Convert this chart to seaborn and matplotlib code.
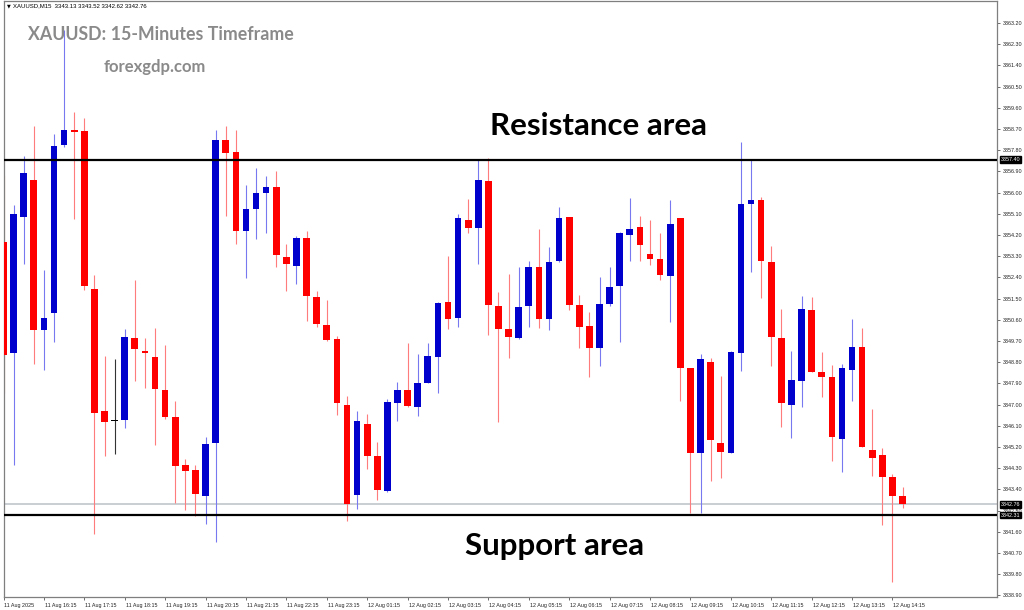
import matplotlib
matplotlib.use("Agg")
import matplotlib.pyplot as plt
import matplotlib.transforms as mtransforms
from matplotlib import font_manager
import numpy as np
import pandas as pd
import seaborn as sns

# ---------------- data (XAUUSD M15) ----------------
opens = [3353.88, 3349.17, 3354.98, 3356.52, 3350.18, 3350.88, 3358.03, 3358.66, 3358.62, 3351.91,
         3346.73, 3346.31, 3346.34, 3349.81, 3349.27, 3349.01, 3347.63, 3346.46, 3344.44, 3344.24,
         3343.12, 3345.36, 3358.25, 3357.71, 3354.37, 3355.28, 3355.96, 3356.22, 3353.28, 3352.89,
         3354.05, 3351.58, 3350.39, 3349.78, 3346.98, 3343.14, 3346.16, 3344.81, 3343.34, 3347.05,
         3347.62, 3346.89, 3347.93, 3349.03, 3351.34, 3350.67, 3354.83, 3354.51, 3356.50, 3351.20,
         3350.22, 3349.84, 3351.18, 3352.85, 3350.63, 3353.09, 3354.95, 3351.21, 3350.33, 3349.38,
         3351.27, 3352.03, 3354.20, 3354.52, 3353.37, 3353.16, 3352.47, 3354.90, 3348.54, 3344.93,
         3348.82, 3345.35, 3344.96, 3349.20, 3355.51, 3355.68, 3353.06, 3349.81, 3346.98, 3348.00,
         3351.01, 3348.39, 3348.18, 3345.52, 3348.45, 3349.45, 3345.07, 3344.86, 3343.94, 3343.13]
highs = [3356.74, 3355.45, 3357.55, 3358.84, 3352.71, 3358.50, 3362.89, 3359.41, 3359.16, 3352.52,
         3349.05, 3348.93, 3350.22, 3352.27, 3349.81, 3350.25, 3349.52, 3347.15, 3344.70, 3344.44,
         3345.64, 3358.67, 3358.82, 3358.67, 3356.30, 3357.03, 3356.70, 3356.91, 3353.81, 3354.15,
         3354.37, 3351.82, 3351.42, 3349.91, 3347.36, 3346.74, 3346.60, 3345.42, 3347.22, 3347.94,
         3349.63, 3349.16, 3349.63, 3351.37, 3353.32, 3355.07, 3355.72, 3357.38, 3357.45, 3351.79,
         3352.54, 3352.85, 3353.11, 3354.44, 3353.70, 3355.40, 3354.97, 3351.65, 3350.94, 3352.43,
         3352.85, 3354.31, 3355.75, 3355.00, 3354.83, 3354.29, 3355.68, 3354.92, 3348.56, 3349.14,
         3348.99, 3348.21, 3349.28, 3358.16, 3357.38, 3355.82, 3353.73, 3351.04, 3349.27, 3351.62,
         3351.55, 3349.21, 3348.68, 3348.72, 3350.63, 3350.23, 3346.81, 3345.14, 3344.04, 3343.52]
lows = [3347.51, 3344.44, 3352.96, 3348.73, 3348.46, 3349.64, 3357.95, 3354.87, 3351.86, 3341.50,
        3344.80, 3344.90, 3346.02, 3348.02, 3347.69, 3345.27, 3346.38, 3342.82, 3342.53, 3342.27,
        3341.91, 3341.18, 3355.01, 3353.81, 3352.38, 3354.03, 3354.27, 3352.85, 3351.82, 3352.12,
        3350.55, 3350.30, 3349.71, 3346.54, 3342.07, 3342.58, 3344.28, 3342.95, 3343.30, 3346.31,
        3346.90, 3346.53, 3347.90, 3347.47, 3350.19, 3350.30, 3354.27, 3352.95, 3349.94, 3346.27,
        3348.99, 3349.77, 3350.30, 3350.23, 3350.16, 3353.05, 3351.01, 3349.38, 3348.18, 3348.63,
        3351.18, 3349.67, 3353.11, 3353.11, 3352.92, 3352.29, 3350.52, 3347.15, 3342.38, 3342.38,
        3343.77, 3343.87, 3344.94, 3348.42, 3352.64, 3351.51, 3348.63, 3346.06, 3345.56, 3346.91,
        3348.37, 3347.33, 3344.60, 3344.15, 3347.16, 3345.19, 3343.98, 3341.88, 3339.48, 3342.62]
closes = [3349.12, 3355.10, 3356.84, 3350.15, 3350.66, 3357.99, 3358.67, 3358.58, 3352.02, 3346.66,
          3346.27, 3346.31, 3349.86, 3349.34, 3349.20, 3347.66, 3346.46, 3344.41, 3344.17, 3343.19,
          3345.31, 3358.25, 3357.66, 3354.35, 3355.28, 3355.96, 3356.25, 3353.35, 3352.96, 3354.05,
          3351.61, 3350.43, 3349.74, 3347.05, 3342.79, 3346.31, 3344.81, 3343.37, 3347.12, 3347.62,
          3346.94, 3347.93, 3349.06, 3351.32, 3350.64, 3354.90, 3354.48, 3356.53, 3351.22, 3350.19,
          3349.85, 3351.15, 3352.85, 3350.63, 3353.06, 3354.93, 3351.22, 3350.30, 3349.38, 3351.27,
          3352.00, 3354.27, 3354.44, 3353.77, 3353.16, 3352.50, 3354.65, 3348.54, 3344.93, 3348.92,
          3345.49, 3344.99, 3349.21, 3355.51, 3355.68, 3353.09, 3349.88, 3347.08, 3348.04, 3351.04,
          3348.39, 3348.18, 3345.63, 3348.54, 3349.45, 3345.21, 3344.71, 3343.91, 3343.13, 3342.76]

x_tick_labels = ["11 Aug 2025", "11 Aug 16:15", "11 Aug 17:15", "11 Aug 18:15", "11 Aug 19:15",
                 "11 Aug 20:15", "11 Aug 21:15", "11 Aug 22:15", "11 Aug 23:15", "12 Aug 01:15",
                 "12 Aug 02:15", "12 Aug 03:15", "12 Aug 04:15", "12 Aug 05:15", "12 Aug 06:15",
                 "12 Aug 07:15", "12 Aug 08:15", "12 Aug 09:15", "12 Aug 10:15", "12 Aug 11:15",
                 "12 Aug 12:15", "12 Aug 13:15", "12 Aug 14:15"]
y_tick_values = [3338.90, 3339.80, 3340.70, 3341.60, 3342.50, 3343.40, 3344.30, 3345.20, 3346.10,
                 3347.00, 3347.90, 3348.80, 3349.70, 3350.60, 3351.50, 3352.40, 3353.30, 3354.20,
                 3355.10, 3356.00, 3356.90, 3357.80, 3358.70, 3359.60, 3360.50, 3361.40, 3362.30,
                 3363.20]
resistance_level = 3357.40
support_level = 3342.31
bid_level = 3342.76

# ---------------- style ----------------
sns.set_style("white")
plt.rcParams['font.family'] = ['Liberation Sans', 'DejaVu Sans']

installed = {f.name for f in font_manager.fontManager.ttflist}
SMALL = "Liberation Sans Narrow" if "Liberation Sans Narrow" in installed else "Liberation Sans"
small_size = 4.6 if SMALL == "Liberation Sans Narrow" else 3.9

df = pd.DataFrame({"open": opens, "high": highs, "low": lows, "close": closes})
df["idx"] = np.arange(len(df))

BULL = "#0000CD"
BEAR = "#FF0000"
BULL_W = "#7878F0"
BEAR_W = "#FF7C7C"

def kind(o, c):
    if c > o:
        return "bull"
    if c < o:
        return "bear"
    return "doji"

df["kind"] = [kind(o, c) for o, c in zip(df.open, df.close)]
body_col = {"bull": BULL, "bear": BEAR, "doji": "#000000"}
wick_col = {"bull": BULL_W, "bear": BEAR_W, "doji": "#333333"}

W, H = 1024, 610
fig = plt.figure(figsize=(W / 100, H / 100), dpi=100)
ax = fig.add_axes([3.5 / W, 13 / H, (997 - 3.5) / W, (597 - 1) / H])

# wicks
ax.vlines(df.idx, df.low, df.high, colors=[wick_col[k] for k in df.kind], linewidth=0.8, zorder=2)
# bodies
bottoms = np.minimum(df.open, df.close)
heights = np.abs(df.close - df.open)
heights = np.where(heights < 0.04, 0.04, heights)
ax.bar(df.idx, heights, bottom=bottoms, width=0.66,
       color=[body_col[k] for k in df.kind], linewidth=0, zorder=3)

# horizontal levels
ax.axhline(bid_level, color="#C9CED3", linewidth=1.4, zorder=1)
ax.axhline(resistance_level, color="#000000", linewidth=1.6, zorder=4)
ax.axhline(support_level, color="#000000", linewidth=1.6, zorder=4)

# limits
spacing = 10.11
ax.set_xlim((3.5 - 2.7) / spacing, (997 - 2.7) / spacing)
ax.set_ylim(3338.83, 3364.13)

# axes ticks
ax.yaxis.tick_right()
ax.set_yticks(y_tick_values)
ax.set_yticklabels([f"{v:.2f}" for v in y_tick_values], fontsize=small_size, color="#222222",
                   family=SMALL)
ax.set_xticks(np.arange(0, len(x_tick_labels) * 4, 4))
ax.set_xticklabels(x_tick_labels, fontsize=small_size, color="#222222", ha="left", family=SMALL)
ax.tick_params(axis="both", length=2.5, width=0.6, color="#555555", pad=1.5, direction="out",
               bottom=True, right=True, left=False)
offset = mtransforms.ScaledTranslation(1.0 / 100, 0, fig.dpi_scale_trans)
for lab in ax.get_xticklabels():
    lab.set_transform(lab.get_transform() + offset)

for s in ax.spines.values():
    s.set_color("#7f7f7f")
    s.set_linewidth(0.9)

# highlighted price labels on the right axis
trans = mtransforms.blended_transform_factory(ax.transAxes, ax.transData)
for lvl in (resistance_level, bid_level, support_level):
    ax.text(1.0035, lvl, f"{lvl:.2f}", transform=trans, fontsize=small_size, color="white",
            family=SMALL, va="center", ha="left", zorder=6, clip_on=False,
            bbox=dict(boxstyle="square,pad=0.15", facecolor="black", edgecolor="black"))

# texts
def fx(px):
    return px / W

def fy(py):
    return 1 - py / H

fig.text(fx(7), fy(6), "\u25BC", fontsize=3.5, color="black", va="center", ha="left",
         family=["DejaVu Sans"])
fig.text(fx(13), fy(6), "XAUUSD,M15  3343.13 3343.52 3342.62 3342.76", fontsize=small_size + 0.4,
         color="black", va="center", ha="left", family=SMALL)
fig.text(fx(28), fy(34), "XAUUSD: 15-Minutes Timeframe", fontsize=12.8, fontweight="bold",
         color="#8A8A8A", va="center", ha="left", family=["Lato", "DejaVu Sans"])
fig.text(fx(155), fy(67), "forexgdp.com", fontsize=12, fontweight="bold",
         color="#8A8A8A", va="center", ha="center", family=["Lato", "DejaVu Sans"])
fig.text(fx(599), fy(126), "Resistance area", fontsize=22.5, fontweight="bold",
         color="black", va="center", ha="center", family=["Lato", "DejaVu Sans"])
fig.text(fx(555), fy(546), "Support area", fontsize=22.5, fontweight="bold",
         color="black", va="center", ha="center", family=["Lato", "DejaVu Sans"])

fig.savefig("out.png", dpi=100, facecolor="white")
